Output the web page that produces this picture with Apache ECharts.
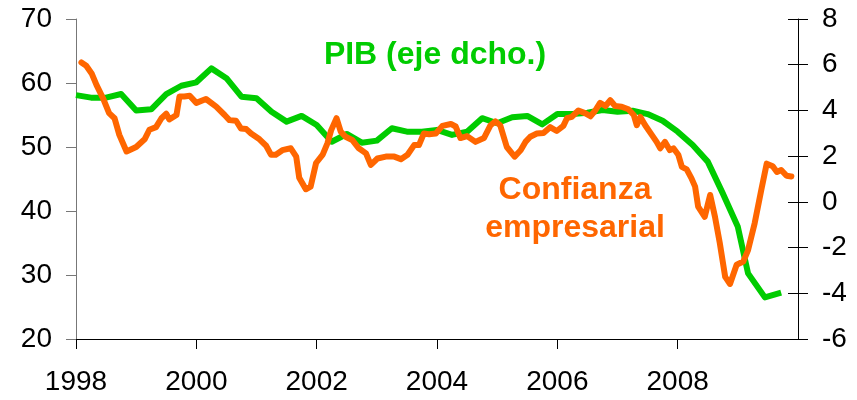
<!DOCTYPE html>
<html>
<head>
<meta charset="utf-8">
<script src="https://cdn.jsdelivr.net/npm/echarts@6/dist/echarts.min.js"></script>
<style>
  html, body { margin: 0; padding: 0; background: #fff; }
  #chart { width: 857px; height: 400px; }
</style>
</head>
<body>
<div id="chart"></div>
<script>
// Confianza empresarial (left axis), roughly monthly
const confDates = [
  1998.09, 1998.17, 1998.26, 1998.34, 1998.45, 1998.55, 1998.64, 1998.72, 1998.84, 1999.00,
  1999.14, 1999.22, 1999.33, 1999.42, 1999.50, 1999.55, 1999.67, 1999.72, 1999.80, 1999.89,
  2000.00, 2000.16, 2000.33, 2000.47, 2000.55, 2000.66, 2000.74, 2000.83, 2000.91, 2001.05,
  2001.16, 2001.24, 2001.32, 2001.43, 2001.57, 2001.66, 2001.71, 2001.82, 2001.90, 2001.99,
  2002.10, 2002.18, 2002.24, 2002.33, 2002.40, 2002.48, 2002.59, 2002.70, 2002.82, 2002.90,
  2003.01, 2003.15, 2003.29, 2003.40, 2003.51, 2003.62, 2003.70, 2003.78, 2003.87, 2003.98,
  2004.09, 2004.23, 2004.31, 2004.39, 2004.50, 2004.64, 2004.78, 2004.89, 2004.97, 2005.05,
  2005.16, 2005.29, 2005.39, 2005.47, 2005.55, 2005.66, 2005.77, 2005.88, 2005.99, 2006.10,
  2006.16, 2006.24, 2006.35, 2006.46, 2006.55, 2006.63, 2006.71, 2006.80, 2006.88, 2006.96,
  2007.07, 2007.18, 2007.27, 2007.32, 2007.38, 2007.46, 2007.57, 2007.65, 2007.71, 2007.79,
  2007.87, 2007.93, 2008.01, 2008.07, 2008.15, 2008.23, 2008.29, 2008.34, 2008.45, 2008.54,
  2008.62, 2008.70, 2008.79, 2008.87, 2008.98, 2009.09, 2009.17, 2009.28, 2009.39, 2009.48,
  2009.58, 2009.65, 2009.72, 2009.81, 2009.89
];
const confValues = [
  63.2, 62.7, 61.5, 59.7, 57.6, 55.3, 54.5, 51.9, 49.3, 50.0,
  51.2, 52.7, 53.1, 54.5, 55.2, 54.3, 55.0, 57.9, 57.9, 58.0,
  56.9, 57.5, 56.3, 55.0, 54.2, 54.1, 52.9, 52.8, 52.1, 51.2,
  50.2, 48.8, 48.8, 49.5, 49.8, 48.5, 45.2, 43.4, 43.8, 47.5,
  48.8, 50.6, 52.6, 54.5, 52.4, 51.6, 51.1, 49.8, 49.0, 47.2,
  48.2, 48.5, 48.5, 48.1, 48.8, 50.3, 50.3, 52.1, 52.0, 52.1,
  53.3, 53.6, 53.2, 51.4, 51.7, 50.8, 51.4, 53.4, 54.0, 53.4,
  50.0, 48.5, 49.5, 50.8, 51.6, 52.1, 52.2, 53.1, 52.5, 53.3,
  54.5, 54.7, 55.7, 55.3, 54.8, 55.7, 56.9, 56.4, 57.3, 56.4,
  56.3, 55.9, 55.0, 53.4, 54.7, 53.4, 51.9, 50.8, 49.8, 50.8,
  49.5, 49.8, 48.8, 46.9, 46.5, 45.1, 43.8, 40.7, 39.1, 42.5,
  39.1, 35.0, 29.7, 28.6, 31.6, 32.1, 33.9, 38.1, 43.3, 47.4,
  47.0, 46.1, 46.4, 45.5, 45.4
];

// PIB (right axis), quarterly
const pibDates = [
  1998.00, 1998.25, 1998.50, 1998.75, 1999.00, 1999.25, 1999.50, 1999.75,
  2000.00, 2000.25, 2000.50, 2000.75, 2001.00, 2001.25, 2001.50, 2001.75,
  2002.00, 2002.25, 2002.50, 2002.75, 2003.00, 2003.25, 2003.50, 2003.75,
  2004.00, 2004.25, 2004.50, 2004.75, 2005.00, 2005.25, 2005.50, 2005.75,
  2006.00, 2006.25, 2006.50, 2006.75, 2007.00, 2007.25, 2007.50, 2007.75,
  2008.00, 2008.25, 2008.50, 2008.75, 2009.00, 2009.17, 2009.45, 2009.72
];
const pibValues = [
  4.67, 4.56, 4.56, 4.72, 4.00, 4.05, 4.71, 5.08,
  5.23, 5.84, 5.41, 4.60, 4.53, 3.94, 3.51, 3.76,
  3.36, 2.63, 2.97, 2.59, 2.68, 3.22, 3.07, 3.07,
  3.15, 2.93, 3.07, 3.66, 3.44, 3.70, 3.76, 3.39,
  3.84, 3.84, 3.90, 4.02, 3.94, 3.99, 3.84, 3.55,
  3.07, 2.49, 1.76, 0.37, -1.09, -3.13, -4.18, -3.97
];

const FONT = "'Liberation Sans', Arial, sans-serif";
const ORANGE = "#ff6600";
const GREEN = "#00cc00";

const chart = echarts.init(document.getElementById("chart"), null, { renderer: "canvas" });

const labelStyle = { color: "#000", fontSize: 28, fontFamily: FONT };

chart.setOption({
  animation: false,
  backgroundColor: "#fff",
  grid: { left: 76, right: 59, top: 19, bottom: 61 },
  xAxis: {
    type: "value",
    min: 1998,
    max: 2010,
    interval: 2,
    axisLine: { onZero: false, lineStyle: { color: "#000", width: 1 } },
    axisTick: { length: 10, lineStyle: { color: "#000" } },
    axisLabel: { ...labelStyle, margin: 29, showMaxLabel: false, formatter: (v) => String(v) },
    splitLine: { show: false },
  },
  yAxis: [
    {
      type: "value",
      min: 20,
      max: 70,
      interval: 10,
      position: "left",
      axisLine: { show: true, onZero: false, lineStyle: { color: "#777", width: 1 } },
      axisTick: { show: true, length: 10, lineStyle: { color: "#777" } },
      axisLabel: { ...labelStyle, margin: 24 },
      splitLine: { show: false },
    },
    {
      type: "value",
      min: -6,
      max: 8,
      interval: 2,
      position: "right",
      axisLine: { show: true, onZero: false, lineStyle: { color: "#000", width: 1 } },
      axisTick: { show: true, length: 10, lineStyle: { color: "#000" } },
      axisLabel: { ...labelStyle, margin: 24 },
      splitLine: { show: false },
    },
    {
      // inner half of the crossing ticks on the right axis
      type: "value",
      min: -6,
      max: 8,
      interval: 2,
      position: "right",
      axisLine: { show: false, onZero: false },
      axisTick: { show: true, inside: true, length: 10, lineStyle: { color: "#000" } },
      axisLabel: { show: false },
      splitLine: { show: false },
    },
  ],
  graphic: [
    {
      type: "text",
      x: 435,
      y: 55,
      style: {
        text: "PIB (eje dcho.)",
        fill: GREEN,
        font: `bold 32px ${FONT}`,
        align: "center",
        verticalAlign: "middle",
      },
    },
    {
      type: "text",
      x: 575,
      y: 209,
      style: {
        text: "Confianza\nempresarial",
        fill: ORANGE,
        font: `bold 32px ${FONT}`,
        align: "center",
        verticalAlign: "middle",
        lineHeight: 38,
      },
    },
  ],
  series: [
    {
      name: "PIB",
      type: "line",
      yAxisIndex: 1,
      symbol: "none",
      data: pibDates.map((d, i) => [d, pibValues[i]]),
      lineStyle: { color: GREEN, width: 6, join: "round" },
      z: 2,
    },
    {
      name: "Confianza empresarial",
      type: "line",
      yAxisIndex: 0,
      symbol: "none",
      data: confDates.map((d, i) => [d, confValues[i]]),
      lineStyle: { color: ORANGE, width: 6, join: "round", cap: "round" },
      z: 3,
    },
  ],
});
</script>
</body>
</html>
